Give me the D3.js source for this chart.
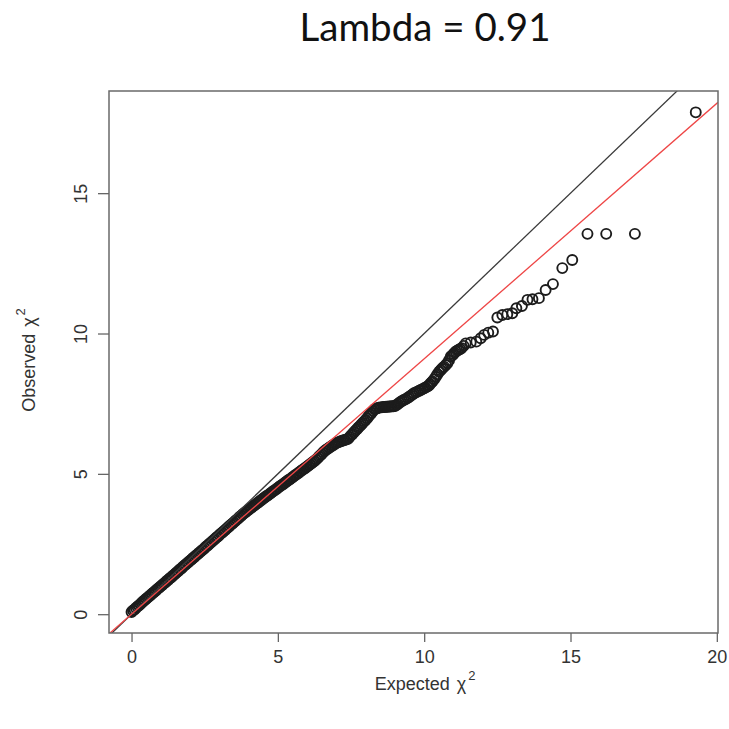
<!DOCTYPE html>
<html lang="en">
	<head>
		<meta charset="utf-8">
		<title>QQ plot, lambda</title>
		<script type="text/javascript" src="https://cdn.jsdelivr.net/npm/d3@7"></script>
		<style type="text/css">
			body {
				margin: 0;
				background: white;
			}
			.axis path {
				display: none;
			}
			.axis line {
				stroke: #666;
				stroke-width: 1.3px;
			}
			.axis text {
				font-family: "Liberation Sans", Arial, sans-serif;
				font-size: 18px;
				fill: #333;
			}
		</style>
	</head>
	<body>
		<script type="text/javascript">

			//SVG width and height
			var w = 729;
			var h = 729;

			// plot box (R style) - note: "top" is reserved on window, so prefix names
			var boxLeft = 109, boxRight = 718, boxTop = 91, boxBottom = 633;

			var lambda = 0.91;
			var title = "Lambda = 0.91";

			// tick labels
			var xTicks = [0, 5, 10, 15, 20];
			var yTicks = [0, 5, 10, 15];

			// expected chi2 (x) - dense band first, then the tail
			var expected = [
				0.00, 0.05, 0.10, 0.15, 0.20, 0.25, 0.30, 0.35, 0.40, 0.45,
				0.50, 0.55, 0.60, 0.65, 0.70, 0.75, 0.80, 0.85, 0.90, 0.95,
				1.00, 1.05, 1.10, 1.15, 1.20, 1.25, 1.30, 1.35, 1.40, 1.45,
				1.50, 1.55, 1.60, 1.65, 1.70, 1.75, 1.80, 1.85, 1.90, 1.95,
				2.00, 2.05, 2.10, 2.15, 2.20, 2.25, 2.30, 2.35, 2.40, 2.45,
				2.50, 2.55, 2.60, 2.65, 2.70, 2.75, 2.80, 2.85, 2.90, 2.95,
				3.00, 3.05, 3.10, 3.15, 3.20, 3.25, 3.30, 3.35, 3.40, 3.45,
				3.50, 3.55, 3.60, 3.65, 3.70, 3.75, 3.80, 3.85, 3.90, 3.95,
				4.00, 4.05, 4.10, 4.15, 4.20, 4.25, 4.30, 4.35, 4.40, 4.45,
				4.50, 4.55, 4.60, 4.65, 4.70, 4.75, 4.80, 4.85, 4.90, 4.95,
				5.00, 5.05, 5.10, 5.15, 5.20, 5.25, 5.30, 5.35, 5.40, 5.45,
				5.50, 5.55, 5.60, 5.65, 5.70, 5.75, 5.80, 5.85, 5.90, 5.95,
				6.00, 6.05, 6.10, 6.15, 6.20, 6.25, 6.30, 6.35, 6.40, 6.45,
				6.50, 6.55, 6.60, 6.65, 6.70, 6.75, 6.80, 6.85, 6.90, 6.95,
				7.00, 7.05, 7.10, 7.15, 7.20, 7.25, 7.30, 7.35, 7.40, 7.45,
				7.50, 7.55, 7.60, 7.65, 7.70, 7.75, 7.80, 7.85, 7.90, 7.95,
				8.00, 8.05, 8.10, 8.15, 8.20, 8.25, 8.30, 8.35, 8.40, 8.45,
				8.50, 8.55, 8.60, 8.65, 8.70, 8.75, 8.80, 8.85, 8.90, 8.95,
				9.00, 9.05, 9.10, 9.15,
				9.20, 9.25, 9.30, 9.36, 9.43, 9.48, 9.54, 9.60, 9.65, 9.71,
				9.77, 9.83, 9.88, 9.94, 10.00, 10.05, 10.11, 10.16, 10.20, 10.24,
				10.28, 10.34, 10.40, 10.45, 10.51, 10.56, 10.60, 10.64, 10.68, 10.74,
				10.79, 10.85, 10.91, 10.96, 11.00, 11.04, 11.08, 11.13, 11.18, 11.23,
				11.28, 11.35, 11.42, 11.59, 11.78, 11.93, 12.05, 12.19, 12.35, 12.50,
				12.67, 12.84, 13.01, 13.15, 13.34, 13.53, 13.70, 13.92, 14.15, 14.40,
				14.72, 15.06, 15.58, 16.22, 17.20, 19.28
			];

			// observed chi2 (y), same order
			var observed = [
				0.08, 0.13, 0.17, 0.22, 0.27, 0.31, 0.36, 0.41, 0.46, 0.50,
				0.55, 0.59, 0.64, 0.68, 0.73, 0.77, 0.82, 0.86, 0.91, 0.95,
				1.00, 1.04, 1.09, 1.13, 1.18, 1.22, 1.27, 1.31, 1.36, 1.40,
				1.45, 1.50, 1.54, 1.59, 1.63, 1.68, 1.73, 1.77, 1.82, 1.86,
				1.91, 1.95, 2.00, 2.04, 2.09, 2.13, 2.18, 2.22, 2.27, 2.31,
				2.36, 2.41, 2.45, 2.50, 2.54, 2.59, 2.64, 2.68, 2.73, 2.77,
				2.82, 2.87, 2.91, 2.96, 3.00, 3.05, 3.10, 3.14, 3.19, 3.23,
				3.28, 3.33, 3.37, 3.42, 3.47, 3.51, 3.56, 3.60, 3.64, 3.68,
				3.72, 3.76, 3.80, 3.84, 3.88, 3.92, 3.96, 4.00, 4.04, 4.08,
				4.12, 4.16, 4.20, 4.23, 4.27, 4.31, 4.35, 4.39, 4.42, 4.46,
				4.50, 4.54, 4.58, 4.61, 4.65, 4.69, 4.73, 4.77, 4.80, 4.84,
				4.88, 4.92, 4.96, 4.99, 5.03, 5.07, 5.11, 5.15, 5.18, 5.22,
				5.26, 5.30, 5.34, 5.38, 5.42, 5.46, 5.50, 5.55, 5.61, 5.66,
				5.71, 5.77, 5.82, 5.86, 5.89, 5.93, 5.96, 6.00, 6.03, 6.07,
				6.10, 6.12, 6.14, 6.16, 6.18, 6.20, 6.21, 6.23, 6.25, 6.31,
				6.37, 6.42, 6.48, 6.54, 6.59, 6.65, 6.70, 6.76, 6.81, 6.87,
				6.92, 6.98, 7.05, 7.11, 7.17, 7.24, 7.30, 7.32, 7.34, 7.36,
				7.37, 7.37, 7.38, 7.38, 7.39, 7.39, 7.40, 7.40, 7.41, 7.41,
				7.42, 7.45, 7.49, 7.53,
				7.57, 7.60, 7.63, 7.66, 7.70, 7.74, 7.78, 7.83, 7.87, 7.90,
				7.93, 7.96, 7.99, 8.02, 8.05, 8.08, 8.11, 8.15, 8.20, 8.25,
				8.29, 8.37, 8.46, 8.55, 8.64, 8.69, 8.74, 8.78, 8.82, 8.88,
				8.94, 9.05, 9.18, 9.22, 9.27, 9.31, 9.36, 9.39, 9.42, 9.45,
				9.48, 9.56, 9.65, 9.68, 9.71, 9.83, 9.95, 10.03, 10.07, 10.57,
				10.66, 10.69, 10.72, 10.90, 10.98, 11.20, 11.22, 11.26, 11.55, 11.76,
				12.33, 12.62, 13.55, 13.55, 13.55, 17.88
			];

			var points = d3.zip(expected, observed);

			// scales, R pads the data range by 4%
			var xScale = d3.scaleLinear()
								.domain([-0.77, 20.04])
								.range([boxLeft, boxRight]);

			var yScale = d3.scaleLinear()
								.domain([-0.67, 18.64])
								.range([boxBottom, boxTop]);

			var svg = d3.select("body")
						.append("svg")
						.attr("width", w)
						.attr("height", h);

			// title
			svg.append("text")
				.attr("x", 425)
				.attr("y", 41)
				.attr("text-anchor", "middle")
				.style("font-family", "Lato, 'Open Sans', sans-serif")
				.style("font-size", "38.5px")
				.style("fill", "#111")
				.text(title);

			// clip everything to the plot box
			svg.append("clipPath")
				.attr("id", "plot-area")
				.append("rect")
				.attr("x", boxLeft)
				.attr("y", boxTop)
				.attr("width", boxRight - boxLeft)
				.attr("height", boxBottom - boxTop);

			var plot = svg.append("g")
						.attr("clip-path", "url(#plot-area)");

			// points (open circles, R pch = 1)
			plot.append("g")
				.selectAll("circle")
				.data(points)
				.enter()
				.append("circle")
				.attr("cx", function(d) { return xScale(d[0]); })
				.attr("cy", function(d) { return yScale(d[1]); })
				.attr("r", 5)
				.attr("fill", "none")
				.attr("stroke", "#1c1c1c")
				.attr("stroke-width", 1.9);

			// y = x and y = lambda * x
			var xd = xScale.domain();
			plot.append("line")
				.attr("x1", xScale(xd[0])).attr("y1", yScale(xd[0]))
				.attr("x2", xScale(xd[1])).attr("y2", yScale(xd[1]))
				.attr("stroke", "#3a3a3a")
				.attr("stroke-width", 1.3);

			plot.append("line")
				.attr("x1", xScale(xd[0])).attr("y1", yScale(lambda * xd[0]))
				.attr("x2", xScale(xd[1])).attr("y2", yScale(lambda * xd[1]))
				.attr("stroke", "#ee4646")
				.attr("stroke-width", 1.3);

			// box
			svg.append("rect")
				.attr("x", boxLeft)
				.attr("y", boxTop)
				.attr("width", boxRight - boxLeft)
				.attr("height", boxBottom - boxTop)
				.attr("fill", "none")
				.attr("stroke", "#6a6a6a")
				.attr("stroke-width", 1.5);

			// axes
			var xAxis = d3.axisBottom(xScale)
							.tickValues(xTicks)
							.tickSize(9)
							.tickPadding(8)
							.tickFormat(d3.format("d"));
			svg.append("g")
				.attr("class", "x axis")
				.attr("transform", "translate(0," + boxBottom + ")")
				.call(xAxis);

			var yAxis = d3.axisLeft(yScale)
							.tickValues(yTicks)
							.tickSize(11)
							.tickFormat(d3.format("d"));
			svg.append("g")
				.attr("class", "y axis")
				.attr("transform", "translate(" + boxLeft + ",0)")
				.call(yAxis)
				.selectAll("text")
				.attr("transform", "rotate(-90)")
				.attr("x", 0)
				.attr("y", -22)
				.attr("dy", 0)
				.style("text-anchor", "middle");

			// axis titles
			var xLab = svg.append("text")
				.attr("x", 425)
				.attr("y", 690)
				.attr("text-anchor", "middle")
				.style("font-family", "Liberation Sans, Arial, sans-serif")
				.style("font-size", "18px")
				.style("fill", "#333");
			xLab.append("tspan").text("Expected");
			xLab.append("tspan").attr("dx", 7).text("χ");
			xLab.append("tspan").attr("dy", -10).attr("dx", 2).style("font-size", "13px").text("2");

			var yLab = svg.append("text")
				.attr("transform", "translate(35,360) rotate(-90)")
				.attr("text-anchor", "middle")
				.style("font-family", "Liberation Sans, Arial, sans-serif")
				.style("font-size", "18px")
				.style("fill", "#333");
			yLab.append("tspan").text("Observed");
			yLab.append("tspan").attr("dx", 7).text("χ");
			yLab.append("tspan").attr("dy", -10).attr("dx", 2).style("font-size", "13px").text("2");

		</script>
	</body>
</html>
